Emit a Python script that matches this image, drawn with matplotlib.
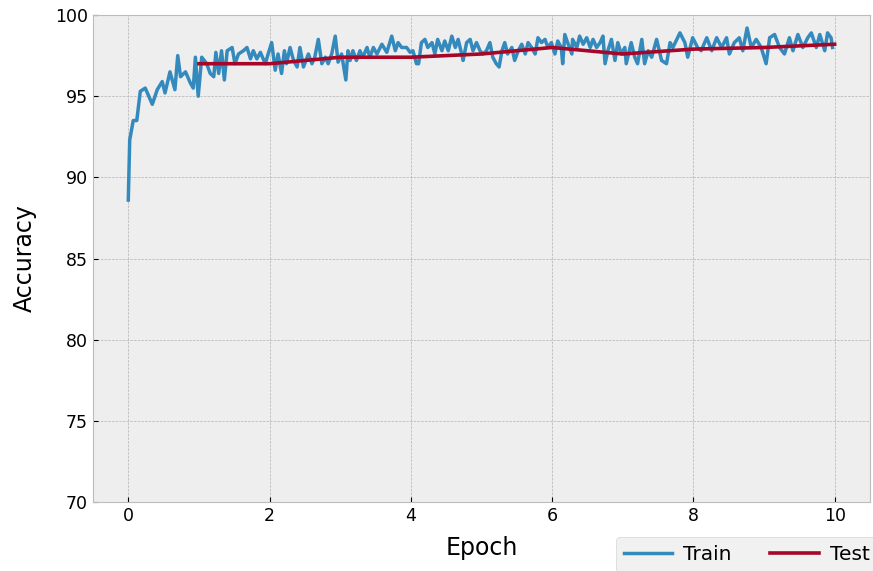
import matplotlib
matplotlib.use('Agg')
import matplotlib.pyplot as plt
import numpy as np

train_epoch = [
    0.00, 0.02, 0.07, 0.12, 0.17, 0.24, 0.34, 0.41, 0.48, 0.52, 0.59, 0.66, 0.70, 0.74, 0.81, 0.88, 0.92, 0.95, 0.99,
    1.04, 1.11, 1.16, 1.21, 1.24, 1.28, 1.32, 1.36, 1.40, 1.47, 1.51, 1.56, 1.63, 1.68, 1.73, 1.77, 1.82, 1.87, 1.94, 1.98,
    2.03, 2.08, 2.12, 2.17, 2.21, 2.24, 2.29, 2.34, 2.39, 2.43, 2.48, 2.55, 2.60, 2.64, 2.69, 2.74, 2.79, 2.83, 2.88, 2.93, 2.97,
    3.02, 3.08, 3.11, 3.14, 3.18, 3.23, 3.28, 3.32, 3.38, 3.42, 3.47, 3.52, 3.59, 3.66, 3.73, 3.78, 3.82, 3.87, 3.94, 3.99,
    4.03, 4.08, 4.11, 4.15, 4.20, 4.24, 4.30, 4.34, 4.38, 4.44, 4.48, 4.53, 4.58, 4.63, 4.67, 4.72, 4.74, 4.79, 4.84, 4.88, 4.93, 4.98,
    5.02, 5.07, 5.12, 5.16, 5.21, 5.25, 5.29, 5.33, 5.37, 5.43, 5.47, 5.52, 5.57, 5.62, 5.66, 5.71, 5.76, 5.80, 5.85, 5.90, 5.94, 5.99,
    6.04, 6.08, 6.13, 6.15, 6.18, 6.22, 6.28, 6.29, 6.35, 6.39, 6.44, 6.49, 6.54, 6.58, 6.63, 6.68, 6.72, 6.75, 6.79, 6.84, 6.89, 6.93, 6.98,
    7.03, 7.05, 7.12, 7.17, 7.21, 7.27, 7.31, 7.36, 7.41, 7.48, 7.55, 7.62, 7.67, 7.71, 7.81, 7.88, 7.92, 7.99,
    8.06, 8.11, 8.19, 8.26, 8.33, 8.40, 8.47, 8.51, 8.58, 8.65, 8.70, 8.76, 8.82, 8.89, 8.96,
    9.03, 9.08, 9.15, 9.22, 9.29, 9.36, 9.41, 9.48, 9.55, 9.62, 9.67, 9.74, 9.79, 9.86, 9.90, 9.95, 9.97,
]
train_acc = [
    88.6, 92.3, 93.5, 93.5, 95.3, 95.5, 94.5, 95.4, 95.9, 95.2, 96.5, 95.4, 97.5, 96.2, 96.5, 95.8, 95.5, 97.4, 95.0,
    97.4, 97.0, 96.4, 96.2, 97.7, 96.4, 97.8, 96.0, 97.8, 98.0, 97.0, 97.6, 97.8, 98.0, 97.3, 97.8, 97.3, 97.7, 97.0, 97.6,
    98.3, 96.6, 97.6, 96.4, 97.8, 97.0, 98.0, 97.2, 96.8, 98.0, 96.8, 97.6, 97.0, 97.4, 98.5, 97.0, 97.4, 97.0, 97.6, 98.7, 97.1,
    97.6, 96.0, 97.8, 97.2, 97.8, 97.2, 97.8, 97.4, 98.0, 97.4, 98.0, 97.6, 98.2, 97.7, 98.7, 97.8, 98.3, 98.0, 98.0, 97.7,
    97.8, 97.0, 97.0, 98.3, 98.5, 98.0, 98.3, 97.6, 98.5, 97.8, 98.4, 97.8, 98.7, 98.0, 98.5, 97.6, 97.2, 98.3, 98.5, 97.8, 98.3, 97.8,
    97.6, 97.8, 98.3, 97.4, 97.0, 96.8, 97.8, 98.3, 97.6, 98.0, 97.2, 97.8, 98.2, 97.6, 98.3, 98.0, 97.6, 98.6, 98.3, 98.5, 98.0, 98.3,
    97.6, 98.4, 98.0, 97.0, 98.8, 98.3, 97.6, 98.5, 98.0, 98.7, 98.2, 98.6, 98.0, 98.5, 98.0, 98.3, 98.7, 97.0, 97.8, 98.5, 97.2, 98.3, 97.6,
    98.0, 97.0, 98.3, 97.4, 97.0, 98.5, 97.0, 97.8, 97.4, 98.5, 97.2, 97.0, 98.3, 98.0, 98.9, 98.3, 97.4, 98.6,
    98.0, 97.8, 98.6, 97.8, 98.6, 98.0, 98.6, 97.6, 98.3, 98.6, 97.8, 99.2, 98.0, 98.5, 98.0,
    97.0, 98.6, 98.8, 98.0, 97.6, 98.6, 97.8, 98.8, 98.0, 98.6, 98.9, 98.0, 98.8, 97.8, 98.9, 98.6, 98.0,
]

test_epoch = [1, 2, 3, 4, 5, 6, 7, 8, 9, 10]
test_acc = [97.0, 97.0, 97.4, 97.4, 97.6, 98.0, 97.6, 97.9, 98.0, 98.2]


def main():
    plt.style.use('bmh')

    fig = plt.figure(figsize=(8.73, 5.71), dpi=100)
    ax = fig.add_axes([0.1065, 0.1208, 0.89, 0.8529])

    ax.plot(train_epoch, train_acc, label='Train', lw=2.5)
    ax.plot(test_epoch, test_acc, label='Test', lw=2.6)

    ax.set_xlim(-0.5, 10.5)
    ax.set_ylim(70, 100)
    ax.set_xticks(np.arange(0, 11, 2))
    ax.set_yticks(np.arange(70, 101, 5))
    ax.grid(True, linestyle='--')
    ax.tick_params(labelsize=12.5)
    ax.set_xlabel('Epoch', fontsize=17, labelpad=8)
    ax.set_ylabel('Accuracy', fontsize=17, labelpad=13)

    fig.legend(loc='upper left', bbox_to_anchor=(0.7056, 0.0595),
               bbox_transform=fig.transFigure, borderaxespad=0,
               ncol=2, fontsize=14.5, handlelength=2.4,
               handletextpad=0.55, columnspacing=1.9)

    fig.savefig('out.png', dpi=100)


if __name__ == "__main__":
    main()
